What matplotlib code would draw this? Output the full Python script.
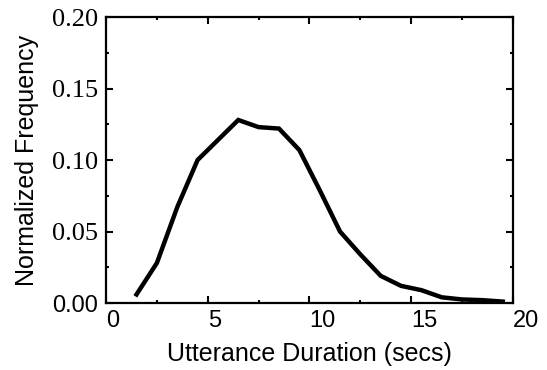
import matplotlib
matplotlib.use("Agg")
import matplotlib.pyplot as plt
from matplotlib.ticker import MultipleLocator

# histogram of utterance durations (bin centres, secs)
duration_secs = [1.5, 2.5, 3.5, 4.5, 5.5, 6.5, 7.5, 8.5, 9.5, 10.5,
                 11.5, 12.5, 13.5, 14.5, 15.5, 16.5, 17.5, 18.5, 19.5]
norm_freq = [0.006, 0.028, 0.067, 0.100, 0.114, 0.128, 0.123, 0.122, 0.107, 0.079,
             0.050, 0.034, 0.019, 0.012, 0.009, 0.004, 0.0025, 0.002, 0.001]

x_ticks = [0, 5, 10, 15, 20]
y_ticks = [0.00, 0.05, 0.10, 0.15, 0.20]
y_tick_labels = ["0.00", "0.05", "0.10", "0.15", "0.20"]

SANS = "Liberation Sans"
SERIF = "Liberation Serif"

fig = plt.figure(figsize=(5.47, 3.70), dpi=100)
ax = fig.add_axes([0.1938, 0.181, 0.744, 0.773])

ax.plot(duration_secs, norm_freq, color="black", lw=3.2, solid_joinstyle="miter")

ax.set_xlim(0, 20)
ax.set_ylim(0, 0.20)
ax.xaxis.set_minor_locator(MultipleLocator(2.5))
ax.yaxis.set_minor_locator(MultipleLocator(0.025))

ax.tick_params(which="both", direction="in", top=True, right=True, width=1.5, color="black")
ax.tick_params(which="major", length=5)
ax.tick_params(which="minor", length=2.4)
ax.tick_params(axis="x", pad=5)
ax.tick_params(axis="y", pad=6)
for sp in ax.spines.values():
    sp.set_linewidth(1.6)

ax.set_xticks(x_ticks)
ax.set_xticklabels([str(v) for v in x_ticks], fontfamily=SANS, fontsize=17, ha="left")
ax.set_yticks(y_ticks)
ax.set_yticklabels(y_tick_labels, fontfamily=SERIF, fontsize=19)
# odd mix in the original: serif y labels, except the 0.00 one
zero_lab = ax.get_yticklabels()[0]
zero_lab.set_fontfamily(SANS)
zero_lab.set_fontsize(17)

ax.set_xlabel("Utterance Duration (secs)", fontfamily=SANS, fontsize=18, labelpad=7)
ax.set_ylabel("Normalized Frequency", fontfamily=SANS, fontsize=18, labelpad=9)

fig.savefig("out.png", dpi=100)
